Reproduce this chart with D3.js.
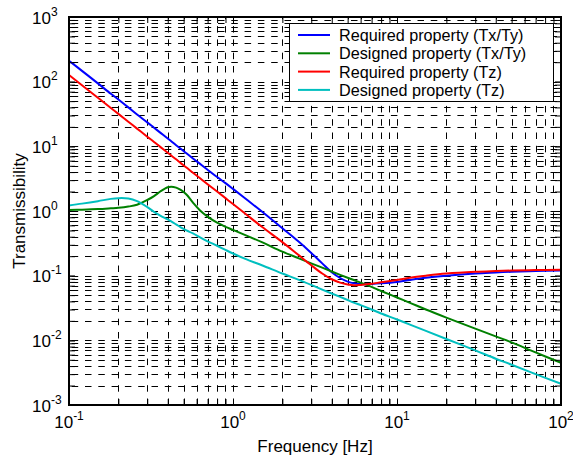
<!DOCTYPE html>
<html>
<head>
<meta charset="utf-8">
<script src="https://cdn.jsdelivr.net/npm/d3@7"></script>
<style>
  html, body { margin: 0; padding: 0; background: #fff; }
  svg { display: block; font-family: "Liberation Sans", Arial, Helvetica, sans-serif; }
</style>
</head>
<body>
<svg id="chart" width="573" height="459"></svg>
<script>
// Frequency samples [Hz]
const freq = [0.1, 0.12, 0.15, 0.18, 0.2, 0.23, 0.26, 0.3, 0.33, 0.36, 0.4, 0.42, 0.45, 0.48,
  0.52, 0.57, 0.63, 0.7, 0.8, 0.9, 1, 1.2, 1.5, 2, 2.5, 3, 3.5, 4, 4.5, 5, 5.5, 6, 7, 8,
  10, 12, 15, 20, 30, 40, 50, 70, 100];

// Transmissibility of each series at those frequencies
const requiredTxTy = [211, 147, 94, 65, 53, 40, 31, 23.5, 19.4, 16.3, 13.2, 12.0, 10.4, 9.2,
  7.8, 6.5, 5.35, 4.35, 3.35, 2.7, 2.2, 1.53, 0.98, 0.54, 0.34, 0.225, 0.155, 0.113, 0.092,
  0.081, 0.076, 0.074, 0.0745, 0.076, 0.08, 0.086, 0.093, 0.1, 0.108, 0.112, 0.115, 0.118, 0.12];

const designedTxTy = [1.04, 1.05, 1.07, 1.1, 1.12, 1.17, 1.25, 1.48, 1.7, 2.0, 2.33, 2.38, 2.3, 2.12,
  1.8, 1.35, 1.02, 0.82, 0.66, 0.57, 0.51, 0.42, 0.33, 0.235, 0.187, 0.155, 0.133, 0.116, 0.103,
  0.093, 0.085, 0.078, 0.067, 0.058, 0.046, 0.038, 0.03, 0.0225, 0.0152, 0.0115, 0.0093, 0.0065, 0.0045];

const requiredTz = [127, 88, 56.5, 39.2, 31.8, 24, 18.8, 14.1, 11.7, 9.8, 7.95, 7.2, 6.3, 5.5,
  4.7, 3.9, 3.2, 2.6, 2.0, 1.58, 1.28, 0.89, 0.57, 0.33, 0.21, 0.145, 0.108, 0.088, 0.078,
  0.073, 0.071, 0.072, 0.075, 0.079, 0.086, 0.093, 0.1, 0.108, 0.115, 0.118, 0.12, 0.122, 0.123];

const designedTz = [1.22, 1.3, 1.42, 1.54, 1.58, 1.56, 1.42, 1.15, 0.97, 0.85, 0.74, 0.69, 0.62, 0.56,
  0.5, 0.45, 0.39, 0.34, 0.29, 0.25, 0.22, 0.18, 0.145, 0.108, 0.087, 0.072, 0.061, 0.053, 0.047,
  0.042, 0.038, 0.035, 0.03, 0.026, 0.021, 0.0175, 0.014, 0.0105, 0.007, 0.0052, 0.0042, 0.003, 0.00213];

const seriesNames = ["Required property (Tx/Ty)", "Designed property (Tx/Ty)",
  "Required property (Tz)", "Designed property (Tz)"];
const seriesColors = ["#0000ff", "#008000", "#ff0000", "#00bfbf"];
const seriesValues = [requiredTxTy, designedTxTy, requiredTz, designedTz];

// Decade exponents used for tick labels
const xDecades = [-1, 0, 1, 2];
const yDecades = [-3, -2, -1, 0, 1, 2, 3];

const xLabel = "Frequency [Hz]";
const yLabel = "Transmissibility";

const svg = d3.select("#chart");
const plot = { left: 69, right: 561, top: 17, bottom: 405 };

const x = d3.scaleLog().domain([0.1, 100]).range([plot.left, plot.right]);
const y = d3.scaleLog().domain([1e-3, 1e3]).range([plot.bottom, plot.top]);

// every 1..9 x 10^n value inside a domain
function logSteps(lo, hi) {
  const out = [];
  for (let e = Math.floor(Math.log10(lo)); e < Math.ceil(Math.log10(hi)); e++) {
    for (let k = 1; k < 10; k++) {
      const v = k * Math.pow(10, e);
      if (v > lo * 1.0001 && v < hi * 0.9999) out.push(v);
    }
  }
  return out;
}
const xGrid = logSteps(0.1, 100);
const yGrid = logSteps(1e-3, 1e3);

// dashed grid
const grid = svg.append("g").attr("stroke", "#000").attr("stroke-width", 1).attr("fill", "none");
grid.selectAll("line.h").data(yGrid).join("line")
  .attr("x1", plot.left).attr("x2", plot.right)
  .attr("y1", d => Math.round(y(d)) + 0.5).attr("y2", d => Math.round(y(d)) + 0.5)
  .attr("stroke-dasharray", "6.5,6.8").attr("stroke-dashoffset", 10.6);
grid.selectAll("line.v").data(xGrid).join("line")
  .attr("y1", plot.bottom).attr("y2", plot.top)
  .attr("x1", d => Math.round(x(d)) + 0.5).attr("x2", d => Math.round(x(d)) + 0.5)
  .attr("stroke-dasharray", "6.5,6.8").attr("stroke-dashoffset", 0);

// curves
const line = d3.line()
  .x((d, i) => x(freq[i]))
  .y(d => y(d))
  .curve(d3.curveCatmullRom.alpha(0.5));

const curves = svg.append("g").attr("fill", "none").attr("stroke-width", 2)
  .attr("stroke-linejoin", "round");
seriesValues.forEach((vals, i) => {
  curves.append("path").attr("d", line(vals)).attr("stroke", seriesColors[i]);
});

// axes with inward ticks on all four sides
const tickLen = 6;
function addAxis(axisGen, tx, ty) {
  const g = svg.append("g").attr("transform", `translate(${tx},${ty})`).call(axisGen);
  g.selectAll("text").remove();
  g.select(".domain").remove();
  g.selectAll("line").attr("stroke", "#000").attr("stroke-width", 1);
  return g;
}
const xTicks = xDecades.map(e => Math.pow(10, e)).concat(xGrid);
const yTicks = yDecades.map(e => Math.pow(10, e)).concat(yGrid);
addAxis(d3.axisTop(x).tickValues(xTicks).tickSize(tickLen), 0, plot.bottom);
addAxis(d3.axisBottom(x).tickValues(xTicks).tickSize(tickLen), 0, plot.top);
addAxis(d3.axisRight(y).tickValues(yTicks).tickSize(tickLen), plot.left, 0);
addAxis(d3.axisLeft(y).tickValues(yTicks).tickSize(tickLen), plot.right, 0);

svg.append("rect")
  .attr("x", plot.left).attr("y", plot.top)
  .attr("width", plot.right - plot.left).attr("height", plot.bottom - plot.top)
  .attr("fill", "none").attr("stroke", "#000").attr("stroke-width", 2);

// tick labels as 10^n
const fontMain = 17, fontSup = 12;
const xl = svg.append("g").attr("font-size", fontMain).attr("fill", "#000");
xDecades.forEach(e => {
  const t = xl.append("text").attr("x", x(Math.pow(10, e))).attr("y", 428)
    .attr("text-anchor", "middle");
  t.append("tspan").text("10");
  t.append("tspan").attr("font-size", fontSup).attr("dy", -8).text(String(e));
});
yDecades.forEach(e => {
  const t = xl.append("text").attr("x", 32).attr("y", y(Math.pow(10, e)) + 6.5)
    .attr("text-anchor", "start");
  t.append("tspan").text("10");
  t.append("tspan").attr("font-size", fontSup).attr("dy", -8).text(String(e));
});

// axis titles
svg.append("text").attr("x", (plot.left + plot.right) / 2).attr("y", 452)
  .attr("text-anchor", "middle").attr("font-size", 17).text(xLabel);
svg.append("text").attr("transform", `translate(25,${(plot.top + plot.bottom) / 2}) rotate(-90)`)
  .attr("text-anchor", "middle").attr("font-size", 17).text(yLabel);

// legend
const legend = svg.append("g");
legend.append("rect").attr("x", 289.5).attr("y", 23.5).attr("width", 264).attr("height", 78)
  .attr("fill", "#fff").attr("stroke", "#000").attr("stroke-width", 1);
seriesNames.forEach((name, i) => {
  const cy = 35 + i * 18.3;
  legend.append("line").attr("x1", 298).attr("x2", 330).attr("y1", cy).attr("y2", cy)
    .attr("stroke", seriesColors[i]).attr("stroke-width", 2);
  legend.append("text").attr("x", 339).attr("y", cy + 6).attr("font-size", 16.2).text(name);
});
</script>
</body>
</html>
